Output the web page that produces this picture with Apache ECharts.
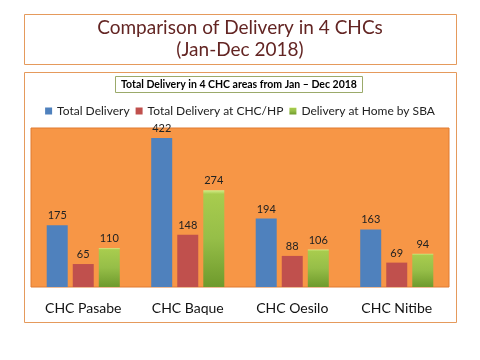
<!DOCTYPE html>
<html><head><meta charset="utf-8">
<script src="https://cdn.jsdelivr.net/npm/echarts@6/dist/echarts.min.js"></script>
<style>html,body{margin:0;padding:0;background:#fff}#c{width:480px;height:360px}</style>
</head><body><div id="c"></div>
<script>
const categories = ['CHC Pasabe', 'CHC Baque', 'CHC Oesilo', 'CHC Nitibe'];
const totalDelivery = [175, 422, 194, 163];
const deliveryCHC = [65, 148, 88, 69];
const deliveryHome = [110, 274, 106, 94];
const seriesNames = ['Total Delivery', 'Total Delivery at CHC/HP', 'Delivery at Home by SBA'];
const titleLines = ['Comparison of Delivery in 4 CHCs', '(Jan-Dec 2018)'];
const subTitle = 'Total Delivery in 4 CHC areas from Jan \u2013 Dec 2018';

const FONT = 'Lato';
const chart = echarts.init(document.getElementById('c'));
const label = {show: true, position: 'top', color: '#222', fontFamily: FONT, fontSize: 11, distance: 4};
chart.setOption({
  backgroundColor: '#fff',
  animation: false,
  graphic: [
    {type: 'rect', shape: {x: 24.5, y: 14.5, width: 432, height: 50}, style: {fill: '#fff', stroke: '#E59A5C', lineWidth: 1}},
    {type: 'text', x: 240, y: 28, style: {text: titleLines[0], font: '19px ' + FONT, fill: '#632523', align: 'center', verticalAlign: 'middle'}},
    {type: 'text', x: 240, y: 50, style: {text: titleLines[1], font: '19px ' + FONT, fill: '#632523', align: 'center', verticalAlign: 'middle'}},
    {type: 'rect', shape: {x: 24.5, y: 72.5, width: 432, height: 250}, style: {fill: 'none', stroke: '#E59A5C', lineWidth: 1}},
    {type: 'rect', shape: {x: 115.5, y: 76.5, width: 247, height: 16}, style: {fill: '#fff', stroke: '#9BAA6A', lineWidth: 1}},
    {type: 'text', x: 239, y: 84.5, style: {text: subTitle, font: 'bold 10.5px ' + FONT, fill: '#000', align: 'center', verticalAlign: 'middle'}}
  ],
  legend: {
    top: 100, left: 'center', itemWidth: 7, itemHeight: 7, itemGap: 6,
    icon: 'rect',
    textStyle: {fontFamily: FONT, fontSize: 12, color: '#222'},
    data: seriesNames
  },
  grid: {left: 31, right: 31, top: 128, bottom: 73, show: true, backgroundColor: '#F79646', borderColor: '#E07A30', borderWidth: 1},
  xAxis: {
    type: 'category', data: categories,
    axisLine: {show: false}, axisTick: {show: false},
    axisLabel: {fontFamily: FONT, fontSize: 14, color: '#111', margin: 14}
  },
  yAxis: {type: 'value', min: 0, max: 450, show: false, splitLine: {show: false}},
  series: [
    {name: seriesNames[0], type: 'bar', data: totalDelivery, barWidth: 21, barGap: '24%', itemStyle: {color: '#4F81BD'}, label},
    {name: seriesNames[1], type: 'bar', data: deliveryCHC, barWidth: 21, barGap: '24%', itemStyle: {color: '#C0504D'}, label},
    {name: seriesNames[2], type: 'bar', data: deliveryHome, barWidth: 21, barGap: '24%',
      itemStyle: {color: new echarts.graphic.LinearGradient(0, 0, 0, 1, [
        {offset: 0, color: '#D6EE8A'}, {offset: 0.04, color: '#A8CC4E'}, {offset: 0.5, color: '#96BE48'}, {offset: 1, color: '#6E9A2C'}])},
      label}
  ]
});
</script></body></html>
